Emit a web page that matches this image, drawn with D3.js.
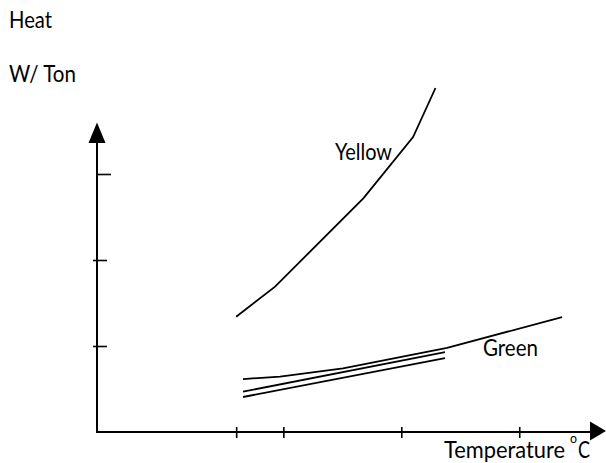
<!DOCTYPE html>
<html>
<head>
<meta charset="utf-8">
<script src="https://cdn.jsdelivr.net/npm/d3@7/dist/d3.min.js"></script>
<style>
  html, body { margin: 0; padding: 0; background: #fff; }
  svg { display: block; }
  text { font-family: Lato, "Open Sans", sans-serif; fill: #000; }
</style>
</head>
<body>
<svg id="chart" width="606" height="463"></svg>
<script>
// ---- data (unitless) ----
const xTicks = [0, 4, 14, 24];
const yTicks = [1, 2, 3];

const yellowX = [0, 3.3, 10.8, 15.0, 16.9];
const yellowY = [1.34, 1.69, 2.72, 3.43, 4.0];

const greenTopX = [0.58, 3.72, 9.06, 17.88, 27.63];
const greenTopY = [0.616, 0.645, 0.741, 0.977, 1.337];

const greenMidX = [0.58, 17.71];
const greenMidY = [0.469, 0.930];

const greenLowX = [0.58, 17.71];
const greenLowY = [0.407, 0.860];

const labels = { yTitle1: "Heat", yTitle2: "W/ Ton", yellow: "Yellow", green: "Green", xTitle: "Temperature", deg: "o", unit: "C" };

// ---- layout ----
const svg = d3.select("#chart");
const x = d3.scaleLinear().domain([-11.8, 30]).range([97, 590]);
const y = d3.scaleLinear().domain([0, 3.6]).range([432, 122.4]);

const x0 = x(-11.8), y0 = y(0);
const line = d3.line().x(d => x(d[0])).y(d => y(d[1]));
const zip = (a, b) => a.map((v, i) => [v, b[i]]);

// axes lines
svg.append("line").attr("x1", x0).attr("y1", y0 + 1).attr("x2", x0).attr("y2", y(3.6) + 18)
  .attr("stroke", "#000").attr("stroke-width", 2);
svg.append("line").attr("x1", x0 - 1).attr("y1", y0).attr("x2", x(30) + 2).attr("y2", y0)
  .attr("stroke", "#000").attr("stroke-width", 2);

// arrowheads
const yt = y(3.6);
svg.append("path").attr("d", `M${x0},${yt} L${x0 - 8.5},${yt + 20.5} L${x0 + 8.5},${yt + 20.5} Z`).attr("fill", "#000");
const xt = x(30);
svg.append("path").attr("d", `M${xt + 16},${y0 - 1} L${xt},${y0 - 10.5} L${xt},${y0 + 8.5} Z`).attr("fill", "#000");

// x ticks via d3 axis
const gx = svg.append("g").attr("transform", `translate(0,${y0})`)
  .call(d3.axisBottom(x).tickValues(xTicks).tickFormat("").tickSize(6).tickSizeOuter(0));
gx.select(".domain").remove();
gx.selectAll(".tick line").attr("y1", -5).attr("y2", 6).attr("stroke", "#000").attr("stroke-width", 1.6);

// y ticks via d3 axis
const gy = svg.append("g").attr("transform", `translate(${x0},0)`)
  .call(d3.axisRight(y).tickValues(yTicks).tickFormat("").tickSize(12).tickSizeOuter(0));
gy.select(".domain").remove();
gy.selectAll(".tick line").attr("x1", d => d === 3 ? 0 : -4).attr("x2", d => d === 3 ? 14 : 10)
  .attr("stroke", "#000").attr("stroke-width", 1.6);

// data lines
const series = [zip(yellowX, yellowY), zip(greenTopX, greenTopY), zip(greenMidX, greenMidY), zip(greenLowX, greenLowY)];
svg.selectAll("path.series").data(series).enter().append("path")
  .attr("class", "series").attr("d", line)
  .attr("fill", "none").attr("stroke", "#000").attr("stroke-width", 1.8);

// texts (narrow, tall face like the original)
const fs = 22.5;
function label(tx, ty, size, str, w) {
  const t = svg.append("text").attr("x", tx).attr("y", ty).attr("font-size", size).text(str);
  if (w) t.attr("textLength", w).attr("lengthAdjust", "spacingAndGlyphs");
  return t;
}
label(9, 28, fs, labels.yTitle1, 43);
label(9, 82, fs, labels.yTitle2, 67);
label(335, 160, fs, labels.yellow, 57);
label(483, 356, fs, labels.green, 55);
label(444, 458, fs, labels.xTitle, 121);
label(570, 443, 14, labels.deg, 7);
label(578, 458, fs, labels.unit, 12);
</script>
</body>
</html>
